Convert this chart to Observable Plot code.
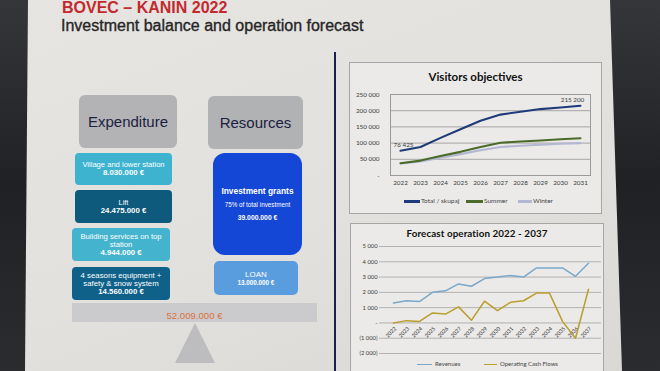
<!DOCTYPE html>
<html><head><meta charset="utf-8">
<script src="https://cdn.jsdelivr.net/npm/d3@7"></script>
<script src="https://cdn.jsdelivr.net/npm/@observablehq/plot@0.6"></script>
<style>
html,body{margin:0;padding:0;width:660px;height:371px;overflow:hidden;
  background:linear-gradient(to bottom,#34363a,#1f2124 50%,#2b2c2f);font-family:"Liberation Sans",Arial,sans-serif}
#slide{position:absolute;left:0;top:0;width:660px;height:371px;
  background:linear-gradient(160deg,#e7e5e2 0%,#e2e0dd 60%,#dad8d5 100%);
  clip-path:polygon(28px 0,610px 0,622px 371px,25px 371px)}
.abs{position:absolute}
.box{position:absolute;display:flex;flex-direction:column;justify-content:center;align-items:center;text-align:center;color:#fff;box-sizing:border-box}
.chartbox{position:absolute;background:#ebeae8;border:1px solid #a6a6a6;box-sizing:border-box}
.ctitle{position:absolute;left:0;right:0;text-align:center;font-family:Lato,sans-serif;font-weight:bold;color:#111}
.leg{position:absolute;font-family:Lato,sans-serif;font-size:6.5px;color:#444;white-space:nowrap}
.sw{position:absolute;height:2.5px}
</style></head>
<body>
<div id="slide"></div>
<div id="root"></div>
<script>
// ---- data ----
const years1 = [2022, 2023, 2024, 2025, 2026, 2027, 2028, 2029, 2030, 2031];
const totalVisitors = [76425, 88000, 116000, 143000, 169000, 188000, 197000, 205000, 210000, 215200];
const summerVisitors = [38000, 46000, 60000, 73000, 88000, 101000, 105000, 108000, 112000, 115000];
const winterVisitors = [37000, 43000, 55000, 66000, 78000, 88000, 92000, 95000, 98000, 100000];
const series1 = ["Total / skupaj", "Summer", "Winter"];
const colors1 = ["#1f3b7a", "#4b6b2b", "#b3b7d3"];
const yTicks1 = [0, 50000, 100000, 150000, 200000, 250000];

const years2 = [2022, 2023, 2024, 2025, 2026, 2027, 2028, 2029, 2030, 2031, 2032, 2033, 2034, 2035, 2036, 2037];
const revenues = [1300, 1450, 1400, 2000, 2100, 2550, 2400, 2900, 3000, 3100, 3000, 3600, 3600, 3600, 3050, 3900];
const cashFlows = [0, 150, 100, 650, 580, 1050, 180, 1420, 800, 1350, 1450, 1950, 1950, 100, -1000, 2200];
const series2 = ["Revenues", "Operating Cash Flows"];
const colors2 = ["#7ba8ca", "#b99f2d"];
const yTicks2 = [-2000, -1000, 0, 1000, 2000, 3000, 4000, 5000];

const expLabels = [["Village and lower station"], ["Lift"], ["Building services on top", "station"], ["4 seasons equipment +", "safety & snow system"]];
const expAmounts = ["8.030.000 €", "24.475.000 €", "4.944.000 €", "14.560.000 €"];
const resLabels = ["Investment grants", "LOAN"];
const resNotes = ["75% of total investment", ""];
const resAmounts = ["39.000.000 €", "13.000.000 €"];
const totalAmount = "52.009.000 €";

// ---- layout ----
const root = document.getElementById("root");
function el(tag, cls, style, html) {
  const e = document.createElement(tag);
  if (cls) e.className = cls;
  Object.assign(e.style, style);
  if (html != null) e.innerHTML = html;
  root.appendChild(e);
  return e;
}
// titles
el("div", "abs", {left: "62px", top: "-1px", fontSize: "16px", fontWeight: "bold", color: "#c32a2f", lineHeight: "18px"}, "BOVEC – KANIN 2022");
el("div", "abs", {left: "61px", top: "17px", fontSize: "16px", color: "#262626", lineHeight: "18px", webkitTextStroke: "0.35px #262626"}, "Investment balance and operation forecast");
// divider
el("div", "abs", {left: "334px", top: "52px", width: "1.6px", height: "320px", background: "#1b2050"});

// headers
el("div", "box", {left: "79px", top: "95px", width: "98px", height: "53px", background: "#b3b3b5", borderRadius: "6px", color: "#1b2140", fontSize: "15px"}, "Expenditure");
el("div", "box", {left: "208px", top: "96px", width: "95px", height: "53px", background: "#b1b2b4", borderRadius: "6px", color: "#1b2140", fontSize: "15px"}, "Resources");

// expenditure boxes
const expGeo = [[75, 153, 97, 32], [75, 190, 97, 33], [72, 228, 98, 33], [72, 267, 98, 33]];
const expFill = ["#3db3cf", "#0e5a7d", "#44b4ce", "#0f6189"];
const expFont = [7.6, 7.4, 7.7, 7.8];
expLabels.forEach((lab, i) => {
  const [x, y, w, h] = expGeo[i];
  el("div", "box", {left: x + "px", top: y + "px", width: w + "px", height: h + "px", background: expFill[i], borderRadius: "4px", lineHeight: "8px", fontSize: expFont[i] + "px"},
    lab.map(l => `<div>${l}</div>`).join("") + `<div style="font-weight:bold;font-size:7.8px">${expAmounts[i]}</div>`);
});
// resources
el("div", "box", {left: "213px", top: "153px", width: "89px", height: "102px", background: "#1447d6", borderRadius: "12px"},
  `<div style="font-weight:bold;font-size:8.4px;line-height:10px">${resLabels[0]}</div>
   <div style="font-size:6.3px;line-height:8px;margin-top:5px">${resNotes[0]}</div>
   <div style="font-weight:bold;font-size:6.8px;line-height:8px;margin-top:5px">${resAmounts[0]}</div>`);
el("div", "box", {left: "214px", top: "261px", width: "84px", height: "34px", background: "#5a9dde", borderRadius: "5px"},
  `<div style="font-size:8px;line-height:9px">${resLabels[1]}</div>
   <div style="font-weight:bold;font-size:6.3px;line-height:8px">${resAmounts[1]}</div>`);
// balance bar
el("div", "box", {left: "72px", top: "303px", width: "245px", height: "19px", background: "#cbcbcd", color: "#dc703d", fontSize: "9.6px", paddingTop: "5px"}, totalAmount);
el("div", "abs", {left: "175px", top: "323px", width: "40px", height: "40px", background: "#bdbdc0", clipPath: "polygon(50% 0,100% 100%,0 100%)"});

// ---- chart 1 ----
el("div", "chartbox", {left: "349px", top: "62px", width: "253px", height: "152px"});
el("div", "ctitle", {left: "349px", width: "253px", top: "70px", fontSize: "11.5px", lineHeight: "14px"}, "Visitors objectives");
const rows1 = years1.flatMap((year, i) => [
  {year, series: series1[2], value: winterVisitors[i]},
  {year, series: series1[1], value: summerVisitors[i]},
  {year, series: series1[0], value: totalVisitors[i]}
]);
const fmtSp = d => d3.format(",")(d).replace(/,/g, " ");
const chart1 = Plot.plot({
  width: 253, height: 104,
  marginLeft: 41, marginRight: 12, marginTop: 6, marginBottom: 17,
  style: {background: "transparent", fontFamily: "Lato, sans-serif", fontSize: "6.3px", color: "#3a3a3a", overflow: "visible"},
  x: {type: "point", domain: years1, padding: 0.5, axis: null},
  y: {domain: [0, 250000], axis: null},
  color: {domain: series1, range: colors1},
  marks: [
    Plot.gridY(yTicks1, {stroke: "#8f8f8f", strokeOpacity: 0.75}),
    Plot.frame({stroke: "#9a9a9a"}),
    Plot.axisY(yTicks1, {tickSize: 0, tickPadding: 11, tickFormat: d => d === 0 ? "-" : fmtSp(d), label: null}),
    Plot.axisX(years1, {tickSize: 0, tickPadding: 5, tickFormat: d => String(d), label: null}),
    Plot.line(rows1, {x: "year", y: "value", z: "series", stroke: "series", strokeWidth: 2.1}),
    Plot.text([{year: years1[0], value: totalVisitors[0]}], {x: "year", y: "value", text: d => fmtSp(d.value), dx: 3, dy: -6, fontSize: 6.3}),
    Plot.text([{year: years1[years1.length - 1], value: totalVisitors[totalVisitors.length - 1]}], {x: "year", y: "value", text: d => fmtSp(d.value), dx: -8, dy: -6, fontSize: 6.3})
  ]
});
const c1 = el("div", "abs", {left: "349px", top: "88px"});
c1.appendChild(chart1);
// legend 1
const leg1 = [[404, 420], [466, 483], [518, 532]];
series1.forEach((s, i) => {
  el("div", "sw", {left: leg1[i][0] + "px", top: "200px", width: (leg1[i][1] - leg1[i][0]) + "px", background: colors1[i]});
  el("div", "leg", {left: (leg1[i][1] + 1) + "px", top: "197px", lineHeight: "8px"}, s);
});

// ---- chart 2 ----
el("div", "chartbox", {left: "350px", top: "223px", width: "254px", height: "160px"});
el("div", "ctitle", {left: "350px", width: "254px", top: "227px", fontSize: "9.8px", lineHeight: "12px", letterSpacing: "0.1px"}, "Forecast operation 2022 - 2037");
const rows2 = years2.flatMap((year, i) => [
  {year, series: series2[0], value: revenues[i]},
  {year, series: series2[1], value: cashFlows[i]}
]);
const fmtBot = d => d === 0 ? "-" : d < 0 ? `(${fmtSp(-d)})` : fmtSp(d);
const chart2 = Plot.plot({
  width: 253, height: 120,
  marginLeft: 29, marginRight: 2, marginTop: 6, marginBottom: 7,
  style: {background: "transparent", fontFamily: "Lato, sans-serif", fontSize: "5.8px", color: "#3a3a3a", overflow: "visible"},
  x: {type: "point", domain: years2, padding: 0.8, axis: null},
  y: {domain: [-2000, 5000], axis: null},
  color: {domain: series2, range: colors2},
  marks: [
    Plot.gridY(yTicks2, {stroke: "#9a9a9a", strokeOpacity: 0.7}),
    Plot.axisY(yTicks2, {tickSize: 0, tickPadding: 2, tickFormat: fmtBot, label: null}),
    Plot.text(years2, {x: d => d, y: () => 0, text: d => String(d), rotate: -45, textAnchor: "end", dx: 2, dy: 5, fontSize: 5.4}),
    Plot.line(rows2, {x: "year", y: "value", z: "series", stroke: "series", strokeWidth: 1.5})
  ]
});
const c2 = el("div", "abs", {left: "350px", top: "240px"});
c2.appendChild(chart2);
const leg2 = [[417, 432], [484, 497]];
series2.forEach((s, i) => {
  el("div", "sw", {left: leg2[i][0] + "px", top: "363.5px", width: (leg2[i][1] - leg2[i][0]) + "px", height: "1.5px", background: colors2[i]});
  el("div", "leg", {left: (leg2[i][1] + 3) + "px", top: "360px", lineHeight: "8px", fontSize: "6px"}, s);
});
</script>
</body></html>
